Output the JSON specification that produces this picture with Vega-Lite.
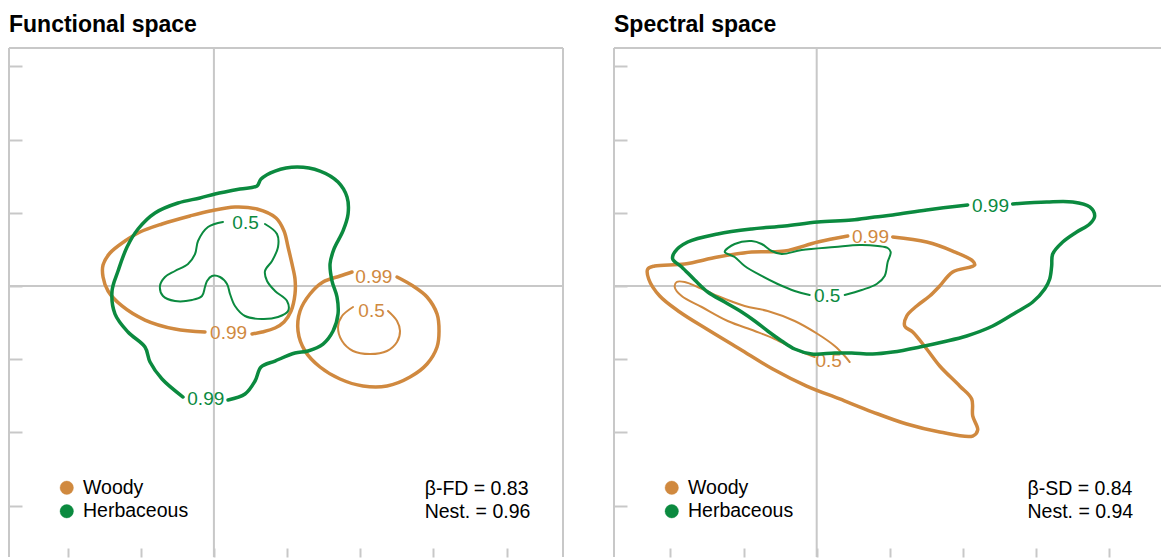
{
  "$schema": "https://vega.github.io/schema/vega-lite/v6.json",
  "description": "Kernel density contours (0.5 and 0.99) of woody and herbaceous plants in functional and spectral space.",
  "background": "white",
  "padding": {"left": 8, "top": 14, "right": 0, "bottom": 0},
  "spacing": 49,
  "resolve": {"legend": {"color": "independent"}},
  "config": {
    "font": "Liberation Sans",
    "view": {"stroke": null},
    "title": {"fontSize": 23, "fontWeight": "bold", "color": "#000000", "anchor": "start", "frame": "group", "offset": 10, "baseline": "alphabetic"},
    "axis": {"domain": false, "labels": false, "grid": false, "ticks": true, "tickColor": "#c8c8c8", "tickWidth": 2},
    "axisX": {"tickSize": 9, "offset": -9},
    "axisY": {"tickSize": 13, "offset": -13},
    "legend": {"orient": "none", "legendX": 48, "legendY": 430, "direction": "vertical", "symbolType": "circle", "symbolSize": 180, "symbolStrokeWidth": 0.8, "labelFontSize": 19.5, "labelFont": "Liberation Sans", "labelColor": "#000000", "labelOffset": 6.5, "rowPadding": 2.5, "padding": 0}
  },
  "datasets": {
    "functional": [
      {"group":"Woody","level":"0.99","ring":"a","i":1,"x":0.521,"y":-0.656},
      {"group":"Woody","level":"0.99","ring":"a","i":2,"x":0.657,"y":-0.629},
      {"group":"Woody","level":"0.99","ring":"a","i":3,"x":0.835,"y":-0.574},
      {"group":"Woody","level":"0.99","ring":"a","i":4,"x":0.958,"y":-0.492},
      {"group":"Woody","level":"0.99","ring":"a","i":5,"x":1.054,"y":-0.342},
      {"group":"Woody","level":"0.99","ring":"a","i":6,"x":1.108,"y":-0.109},
      {"group":"Woody","level":"0.99","ring":"a","i":7,"x":1.108,"y":0.096},
      {"group":"Woody","level":"0.99","ring":"a","i":8,"x":1.067,"y":0.301},
      {"group":"Woody","level":"0.99","ring":"a","i":9,"x":1.013,"y":0.533},
      {"group":"Woody","level":"0.99","ring":"a","i":10,"x":0.958,"y":0.752},
      {"group":"Woody","level":"0.99","ring":"a","i":11,"x":0.849,"y":0.929},
      {"group":"Woody","level":"0.99","ring":"a","i":12,"x":0.589,"y":1.052},
      {"group":"Woody","level":"0.99","ring":"a","i":13,"x":0.288,"y":1.080},
      {"group":"Woody","level":"0.99","ring":"a","i":14,"x":-0.053,"y":1.025},
      {"group":"Woody","level":"0.99","ring":"a","i":15,"x":-0.327,"y":0.957},
      {"group":"Woody","level":"0.99","ring":"a","i":16,"x":-0.709,"y":0.847},
      {"group":"Woody","level":"0.99","ring":"a","i":17,"x":-1.010,"y":0.738},
      {"group":"Woody","level":"0.99","ring":"a","i":18,"x":-1.215,"y":0.615},
      {"group":"Woody","level":"0.99","ring":"a","i":19,"x":-1.420,"y":0.451},
      {"group":"Woody","level":"0.99","ring":"a","i":20,"x":-1.515,"y":0.287},
      {"group":"Woody","level":"0.99","ring":"a","i":21,"x":-1.515,"y":0.123},
      {"group":"Woody","level":"0.99","ring":"a","i":22,"x":-1.447,"y":-0.068},
      {"group":"Woody","level":"0.99","ring":"a","i":23,"x":-1.256,"y":-0.273},
      {"group":"Woody","level":"0.99","ring":"a","i":24,"x":-0.942,"y":-0.465},
      {"group":"Woody","level":"0.99","ring":"a","i":25,"x":-0.532,"y":-0.588},
      {"group":"Woody","level":"0.99","ring":"a","i":26,"x":-0.122,"y":-0.629},
      {"group":"Woody","level":"0.99","ring":"b","i":1,"x":2.502,"y":0.123},
      {"group":"Woody","level":"0.99","ring":"b","i":2,"x":2.721,"y":0.0},
      {"group":"Woody","level":"0.99","ring":"b","i":3,"x":2.912,"y":-0.150},
      {"group":"Woody","level":"0.99","ring":"b","i":4,"x":3.049,"y":-0.383},
      {"group":"Woody","level":"0.99","ring":"b","i":5,"x":3.076,"y":-0.615},
      {"group":"Woody","level":"0.99","ring":"b","i":6,"x":3.049,"y":-0.834},
      {"group":"Woody","level":"0.99","ring":"b","i":7,"x":2.912,"y":-1.066},
      {"group":"Woody","level":"0.99","ring":"b","i":8,"x":2.680,"y":-1.244},
      {"group":"Woody","level":"0.99","ring":"b","i":9,"x":2.365,"y":-1.367},
      {"group":"Woody","level":"0.99","ring":"b","i":10,"x":2.037,"y":-1.367},
      {"group":"Woody","level":"0.99","ring":"b","i":11,"x":1.723,"y":-1.271},
      {"group":"Woody","level":"0.99","ring":"b","i":12,"x":1.450,"y":-1.107},
      {"group":"Woody","level":"0.99","ring":"b","i":13,"x":1.245,"y":-0.888},
      {"group":"Woody","level":"0.99","ring":"b","i":14,"x":1.149,"y":-0.615},
      {"group":"Woody","level":"0.99","ring":"b","i":15,"x":1.177,"y":-0.342},
      {"group":"Woody","level":"0.99","ring":"b","i":16,"x":1.313,"y":-0.109},
      {"group":"Woody","level":"0.99","ring":"b","i":17,"x":1.491,"y":0.055},
      {"group":"Woody","level":"0.99","ring":"b","i":18,"x":1.723,"y":0.137},
      {"group":"Woody","level":"0.99","ring":"b","i":19,"x":1.887,"y":0.191},
      {"group":"Woody","level":"0.5","ring":"c","i":1,"x":2.379,"y":-0.342},
      {"group":"Woody","level":"0.5","ring":"c","i":2,"x":2.502,"y":-0.478},
      {"group":"Woody","level":"0.5","ring":"c","i":3,"x":2.543,"y":-0.615},
      {"group":"Woody","level":"0.5","ring":"c","i":4,"x":2.502,"y":-0.765},
      {"group":"Woody","level":"0.5","ring":"c","i":5,"x":2.365,"y":-0.888},
      {"group":"Woody","level":"0.5","ring":"c","i":6,"x":2.133,"y":-0.929},
      {"group":"Woody","level":"0.5","ring":"c","i":7,"x":1.901,"y":-0.888},
      {"group":"Woody","level":"0.5","ring":"c","i":8,"x":1.751,"y":-0.752},
      {"group":"Woody","level":"0.5","ring":"c","i":9,"x":1.696,"y":-0.560},
      {"group":"Woody","level":"0.5","ring":"c","i":10,"x":1.751,"y":-0.410},
      {"group":"Woody","level":"0.5","ring":"c","i":11,"x":1.901,"y":-0.287},
      {"group":"Herbaceous","level":"0.99","ring":"d","i":1,"x":0.193,"y":-1.558},
      {"group":"Herbaceous","level":"0.99","ring":"d","i":2,"x":0.425,"y":-1.476},
      {"group":"Herbaceous","level":"0.99","ring":"d","i":3,"x":0.562,"y":-1.298},
      {"group":"Herbaceous","level":"0.99","ring":"d","i":4,"x":0.644,"y":-1.107},
      {"group":"Herbaceous","level":"0.99","ring":"d","i":5,"x":0.835,"y":-1.025},
      {"group":"Herbaceous","level":"0.99","ring":"d","i":6,"x":1.108,"y":-0.916},
      {"group":"Herbaceous","level":"0.99","ring":"d","i":7,"x":1.286,"y":-0.888},
      {"group":"Herbaceous","level":"0.99","ring":"d","i":8,"x":1.491,"y":-0.793},
      {"group":"Herbaceous","level":"0.99","ring":"d","i":9,"x":1.628,"y":-0.615},
      {"group":"Herbaceous","level":"0.99","ring":"d","i":10,"x":1.696,"y":-0.383},
      {"group":"Herbaceous","level":"0.99","ring":"d","i":11,"x":1.682,"y":-0.150},
      {"group":"Herbaceous","level":"0.99","ring":"d","i":12,"x":1.614,"y":0.068},
      {"group":"Herbaceous","level":"0.99","ring":"d","i":13,"x":1.587,"y":0.301},
      {"group":"Herbaceous","level":"0.99","ring":"d","i":14,"x":1.641,"y":0.506},
      {"group":"Herbaceous","level":"0.99","ring":"d","i":15,"x":1.764,"y":0.752},
      {"group":"Herbaceous","level":"0.99","ring":"d","i":16,"x":1.833,"y":0.984},
      {"group":"Herbaceous","level":"0.99","ring":"d","i":17,"x":1.819,"y":1.216},
      {"group":"Herbaceous","level":"0.99","ring":"d","i":18,"x":1.696,"y":1.421},
      {"group":"Herbaceous","level":"0.99","ring":"d","i":19,"x":1.450,"y":1.571},
      {"group":"Herbaceous","level":"0.99","ring":"d","i":20,"x":1.136,"y":1.626},
      {"group":"Herbaceous","level":"0.99","ring":"d","i":21,"x":0.835,"y":1.571},
      {"group":"Herbaceous","level":"0.99","ring":"d","i":22,"x":0.644,"y":1.462},
      {"group":"Herbaceous","level":"0.99","ring":"d","i":23,"x":0.589,"y":1.367},
      {"group":"Herbaceous","level":"0.99","ring":"d","i":24,"x":0.357,"y":1.326},
      {"group":"Herbaceous","level":"0.99","ring":"d","i":25,"x":0.015,"y":1.257},
      {"group":"Herbaceous","level":"0.99","ring":"d","i":26,"x":-0.190,"y":1.203},
      {"group":"Herbaceous","level":"0.99","ring":"d","i":27,"x":-0.491,"y":1.134},
      {"group":"Herbaceous","level":"0.99","ring":"d","i":28,"x":-0.805,"y":0.998},
      {"group":"Herbaceous","level":"0.99","ring":"d","i":29,"x":-1.037,"y":0.779},
      {"group":"Herbaceous","level":"0.99","ring":"d","i":30,"x":-1.187,"y":0.533},
      {"group":"Herbaceous","level":"0.99","ring":"d","i":31,"x":-1.310,"y":0.205},
      {"group":"Herbaceous","level":"0.99","ring":"d","i":32,"x":-1.392,"y":-0.068},
      {"group":"Herbaceous","level":"0.99","ring":"d","i":33,"x":-1.351,"y":-0.383},
      {"group":"Herbaceous","level":"0.99","ring":"d","i":34,"x":-1.174,"y":-0.629},
      {"group":"Herbaceous","level":"0.99","ring":"d","i":35,"x":-0.942,"y":-0.834},
      {"group":"Herbaceous","level":"0.99","ring":"d","i":36,"x":-0.873,"y":-1.039},
      {"group":"Herbaceous","level":"0.99","ring":"d","i":37,"x":-0.709,"y":-1.271},
      {"group":"Herbaceous","level":"0.99","ring":"d","i":38,"x":-0.422,"y":-1.517},
      {"group":"Herbaceous","level":"0.5","ring":"e","i":1,"x":0.698,"y":0.847},
      {"group":"Herbaceous","level":"0.5","ring":"e","i":2,"x":0.862,"y":0.711},
      {"group":"Herbaceous","level":"0.5","ring":"e","i":3,"x":0.876,"y":0.533},
      {"group":"Herbaceous","level":"0.5","ring":"e","i":4,"x":0.794,"y":0.342},
      {"group":"Herbaceous","level":"0.5","ring":"e","i":5,"x":0.698,"y":0.205},
      {"group":"Herbaceous","level":"0.5","ring":"e","i":6,"x":0.726,"y":0.068},
      {"group":"Herbaceous","level":"0.5","ring":"e","i":7,"x":0.835,"y":-0.068},
      {"group":"Herbaceous","level":"0.5","ring":"e","i":8,"x":0.999,"y":-0.205},
      {"group":"Herbaceous","level":"0.5","ring":"e","i":9,"x":1.013,"y":-0.342},
      {"group":"Herbaceous","level":"0.5","ring":"e","i":10,"x":0.876,"y":-0.424},
      {"group":"Herbaceous","level":"0.5","ring":"e","i":11,"x":0.657,"y":-0.451},
      {"group":"Herbaceous","level":"0.5","ring":"e","i":12,"x":0.425,"y":-0.410},
      {"group":"Herbaceous","level":"0.5","ring":"e","i":13,"x":0.288,"y":-0.273},
      {"group":"Herbaceous","level":"0.5","ring":"e","i":14,"x":0.220,"y":-0.109},
      {"group":"Herbaceous","level":"0.5","ring":"e","i":15,"x":0.179,"y":0.027},
      {"group":"Herbaceous","level":"0.5","ring":"e","i":16,"x":0.083,"y":0.123},
      {"group":"Herbaceous","level":"0.5","ring":"e","i":17,"x":-0.026,"y":0.137},
      {"group":"Herbaceous","level":"0.5","ring":"e","i":18,"x":-0.094,"y":0.068},
      {"group":"Herbaceous","level":"0.5","ring":"e","i":19,"x":-0.122,"y":-0.014},
      {"group":"Herbaceous","level":"0.5","ring":"e","i":20,"x":-0.163,"y":-0.137},
      {"group":"Herbaceous","level":"0.5","ring":"e","i":21,"x":-0.299,"y":-0.191},
      {"group":"Herbaceous","level":"0.5","ring":"e","i":22,"x":-0.532,"y":-0.205},
      {"group":"Herbaceous","level":"0.5","ring":"e","i":23,"x":-0.696,"y":-0.137},
      {"group":"Herbaceous","level":"0.5","ring":"e","i":24,"x":-0.737,"y":0.0},
      {"group":"Herbaceous","level":"0.5","ring":"e","i":25,"x":-0.668,"y":0.123},
      {"group":"Herbaceous","level":"0.5","ring":"e","i":26,"x":-0.532,"y":0.205},
      {"group":"Herbaceous","level":"0.5","ring":"e","i":27,"x":-0.354,"y":0.301},
      {"group":"Herbaceous","level":"0.5","ring":"e","i":28,"x":-0.258,"y":0.437},
      {"group":"Herbaceous","level":"0.5","ring":"e","i":29,"x":-0.217,"y":0.615},
      {"group":"Herbaceous","level":"0.5","ring":"e","i":30,"x":-0.081,"y":0.806},
      {"group":"Herbaceous","level":"0.5","ring":"e","i":31,"x":0.124,"y":0.875}
    ],
    "functional_labels": [
      {"group":"Woody","level":"0.99","x":0.200,"y":-0.642},
      {"group":"Woody","level":"0.99","x":2.185,"y":0.120},
      {"group":"Woody","level":"0.5","x":2.154,"y":-0.337},
      {"group":"Herbaceous","level":"0.99","x":-0.111,"y":-1.544},
      {"group":"Herbaceous","level":"0.5","x":0.432,"y":0.861}
    ],
    "functional_stats": [{"lines": ["β-FD = 0.83", "Nest. = 0.96"]}],
    "spectral": [
      {"group":"Woody","level":"0.99","ring":"a","i":1,"x":1.039,"y":0.670},
      {"group":"Woody","level":"0.99","ring":"a","i":2,"x":1.503,"y":0.601},
      {"group":"Woody","level":"0.99","ring":"a","i":3,"x":1.858,"y":0.478},
      {"group":"Woody","level":"0.99","ring":"a","i":4,"x":2.132,"y":0.342},
      {"group":"Woody","level":"0.99","ring":"a","i":5,"x":2.159,"y":0.287},
      {"group":"Woody","level":"0.99","ring":"a","i":6,"x":1.858,"y":0.191},
      {"group":"Woody","level":"0.99","ring":"a","i":7,"x":1.681,"y":0.0},
      {"group":"Woody","level":"0.99","ring":"a","i":8,"x":1.544,"y":-0.137},
      {"group":"Woody","level":"0.99","ring":"a","i":9,"x":1.367,"y":-0.273},
      {"group":"Woody","level":"0.99","ring":"a","i":10,"x":1.230,"y":-0.410},
      {"group":"Woody","level":"0.99","ring":"a","i":11,"x":1.203,"y":-0.547},
      {"group":"Woody","level":"0.99","ring":"a","i":12,"x":1.312,"y":-0.629},
      {"group":"Woody","level":"0.99","ring":"a","i":13,"x":1.503,"y":-0.861},
      {"group":"Woody","level":"0.99","ring":"a","i":14,"x":1.681,"y":-1.093},
      {"group":"Woody","level":"0.99","ring":"a","i":15,"x":1.954,"y":-1.367},
      {"group":"Woody","level":"0.99","ring":"a","i":16,"x":2.118,"y":-1.544},
      {"group":"Woody","level":"0.99","ring":"a","i":17,"x":2.132,"y":-1.776},
      {"group":"Woody","level":"0.99","ring":"a","i":18,"x":2.200,"y":-1.968},
      {"group":"Woody","level":"0.99","ring":"a","i":19,"x":2.132,"y":-2.050},
      {"group":"Woody","level":"0.99","ring":"a","i":20,"x":1.681,"y":-1.995},
      {"group":"Woody","level":"0.99","ring":"a","i":21,"x":1.230,"y":-1.886},
      {"group":"Woody","level":"0.99","ring":"a","i":22,"x":0.765,"y":-1.722},
      {"group":"Woody","level":"0.99","ring":"a","i":23,"x":0.314,"y":-1.544},
      {"group":"Woody","level":"0.99","ring":"a","i":24,"x":-0.137,"y":-1.367},
      {"group":"Woody","level":"0.99","ring":"a","i":25,"x":-0.601,"y":-1.134},
      {"group":"Woody","level":"0.99","ring":"a","i":26,"x":-1.052,"y":-0.861},
      {"group":"Woody","level":"0.99","ring":"a","i":27,"x":-1.503,"y":-0.588},
      {"group":"Woody","level":"0.99","ring":"a","i":28,"x":-1.872,"y":-0.355},
      {"group":"Woody","level":"0.99","ring":"a","i":29,"x":-2.145,"y":-0.137},
      {"group":"Woody","level":"0.99","ring":"a","i":30,"x":-2.296,"y":0.096},
      {"group":"Woody","level":"0.99","ring":"a","i":31,"x":-2.309,"y":0.232},
      {"group":"Woody","level":"0.99","ring":"a","i":32,"x":-2.214,"y":0.273},
      {"group":"Woody","level":"0.99","ring":"a","i":33,"x":-1.804,"y":0.301},
      {"group":"Woody","level":"0.99","ring":"a","i":34,"x":-1.353,"y":0.396},
      {"group":"Woody","level":"0.99","ring":"a","i":35,"x":-0.888,"y":0.465},
      {"group":"Woody","level":"0.99","ring":"a","i":36,"x":-0.437,"y":0.478},
      {"group":"Woody","level":"0.99","ring":"a","i":37,"x":0.014,"y":0.601},
      {"group":"Woody","level":"0.99","ring":"a","i":38,"x":0.424,"y":0.683},
      {"group":"Woody","level":"0.5","ring":"b","i":1,"x":0.451,"y":-1.039},
      {"group":"Woody","level":"0.5","ring":"b","i":2,"x":0.383,"y":-0.957},
      {"group":"Woody","level":"0.5","ring":"b","i":3,"x":0.246,"y":-0.820},
      {"group":"Woody","level":"0.5","ring":"b","i":4,"x":0.014,"y":-0.656},
      {"group":"Woody","level":"0.5","ring":"b","i":5,"x":-0.301,"y":-0.478},
      {"group":"Woody","level":"0.5","ring":"b","i":6,"x":-0.670,"y":-0.342},
      {"group":"Woody","level":"0.5","ring":"b","i":7,"x":-0.984,"y":-0.273},
      {"group":"Woody","level":"0.5","ring":"b","i":8,"x":-1.353,"y":-0.137},
      {"group":"Woody","level":"0.5","ring":"b","i":9,"x":-1.626,"y":-0.014},
      {"group":"Woody","level":"0.5","ring":"b","i":10,"x":-1.804,"y":0.055},
      {"group":"Woody","level":"0.5","ring":"b","i":11,"x":-1.913,"y":0.055},
      {"group":"Woody","level":"0.5","ring":"b","i":12,"x":-1.940,"y":-0.014},
      {"group":"Woody","level":"0.5","ring":"b","i":13,"x":-1.845,"y":-0.137},
      {"group":"Woody","level":"0.5","ring":"b","i":14,"x":-1.571,"y":-0.287},
      {"group":"Woody","level":"0.5","ring":"b","i":15,"x":-1.216,"y":-0.478},
      {"group":"Woody","level":"0.5","ring":"b","i":16,"x":-0.847,"y":-0.615},
      {"group":"Woody","level":"0.5","ring":"b","i":17,"x":-0.574,"y":-0.724},
      {"group":"Woody","level":"0.5","ring":"b","i":18,"x":-0.301,"y":-0.861},
      {"group":"Woody","level":"0.5","ring":"b","i":19,"x":-0.027,"y":-0.970},
      {"group":"Herbaceous","level":"0.99","ring":"c","i":1,"x":2.678,"y":1.121},
      {"group":"Herbaceous","level":"0.99","ring":"c","i":2,"x":3.143,"y":1.148},
      {"group":"Herbaceous","level":"0.99","ring":"c","i":3,"x":3.498,"y":1.148},
      {"group":"Herbaceous","level":"0.99","ring":"c","i":4,"x":3.731,"y":1.080},
      {"group":"Herbaceous","level":"0.99","ring":"c","i":5,"x":3.799,"y":0.957},
      {"group":"Herbaceous","level":"0.99","ring":"c","i":6,"x":3.731,"y":0.847},
      {"group":"Herbaceous","level":"0.99","ring":"c","i":7,"x":3.553,"y":0.738},
      {"group":"Herbaceous","level":"0.99","ring":"c","i":8,"x":3.362,"y":0.601},
      {"group":"Herbaceous","level":"0.99","ring":"c","i":9,"x":3.225,"y":0.437},
      {"group":"Herbaceous","level":"0.99","ring":"c","i":10,"x":3.211,"y":0.273},
      {"group":"Herbaceous","level":"0.99","ring":"c","i":11,"x":3.184,"y":0.096},
      {"group":"Herbaceous","level":"0.99","ring":"c","i":12,"x":3.116,"y":-0.041},
      {"group":"Herbaceous","level":"0.99","ring":"c","i":13,"x":2.952,"y":-0.219},
      {"group":"Herbaceous","level":"0.99","ring":"c","i":14,"x":2.733,"y":-0.355},
      {"group":"Herbaceous","level":"0.99","ring":"c","i":15,"x":2.405,"y":-0.547},
      {"group":"Herbaceous","level":"0.99","ring":"c","i":16,"x":2.050,"y":-0.683},
      {"group":"Herbaceous","level":"0.99","ring":"c","i":17,"x":1.722,"y":-0.765},
      {"group":"Herbaceous","level":"0.99","ring":"c","i":18,"x":1.407,"y":-0.834},
      {"group":"Herbaceous","level":"0.99","ring":"c","i":19,"x":1.039,"y":-0.902},
      {"group":"Herbaceous","level":"0.99","ring":"c","i":20,"x":0.765,"y":-0.929},
      {"group":"Herbaceous","level":"0.99","ring":"c","i":21,"x":0.478,"y":-0.916},
      {"group":"Herbaceous","level":"0.99","ring":"c","i":22,"x":0.246,"y":-0.916},
      {"group":"Herbaceous","level":"0.99","ring":"c","i":23,"x":-0.068,"y":-0.929},
      {"group":"Herbaceous","level":"0.99","ring":"c","i":24,"x":-0.301,"y":-0.861},
      {"group":"Herbaceous","level":"0.99","ring":"c","i":25,"x":-0.478,"y":-0.752},
      {"group":"Herbaceous","level":"0.99","ring":"c","i":26,"x":-0.670,"y":-0.615},
      {"group":"Herbaceous","level":"0.99","ring":"c","i":27,"x":-0.847,"y":-0.478},
      {"group":"Herbaceous","level":"0.99","ring":"c","i":28,"x":-1.025,"y":-0.355},
      {"group":"Herbaceous","level":"0.99","ring":"c","i":29,"x":-1.257,"y":-0.219},
      {"group":"Herbaceous","level":"0.99","ring":"c","i":30,"x":-1.489,"y":-0.082},
      {"group":"Herbaceous","level":"0.99","ring":"c","i":31,"x":-1.667,"y":0.082},
      {"group":"Herbaceous","level":"0.99","ring":"c","i":32,"x":-1.845,"y":0.260},
      {"group":"Herbaceous","level":"0.99","ring":"c","i":33,"x":-1.968,"y":0.369},
      {"group":"Herbaceous","level":"0.99","ring":"c","i":34,"x":-1.940,"y":0.465},
      {"group":"Herbaceous","level":"0.99","ring":"c","i":35,"x":-1.763,"y":0.601},
      {"group":"Herbaceous","level":"0.99","ring":"c","i":36,"x":-1.353,"y":0.711},
      {"group":"Herbaceous","level":"0.99","ring":"c","i":37,"x":-0.888,"y":0.779},
      {"group":"Herbaceous","level":"0.99","ring":"c","i":38,"x":-0.437,"y":0.820},
      {"group":"Herbaceous","level":"0.99","ring":"c","i":39,"x":0.014,"y":0.875},
      {"group":"Herbaceous","level":"0.99","ring":"c","i":40,"x":0.478,"y":0.902},
      {"group":"Herbaceous","level":"0.99","ring":"c","i":41,"x":0.793,"y":0.943},
      {"group":"Herbaceous","level":"0.99","ring":"c","i":42,"x":1.039,"y":0.970},
      {"group":"Herbaceous","level":"0.99","ring":"c","i":43,"x":1.503,"y":1.039},
      {"group":"Herbaceous","level":"0.99","ring":"c","i":44,"x":2.063,"y":1.107},
      {"group":"Herbaceous","level":"0.5","ring":"d","i":1,"x":0.383,"y":-0.123},
      {"group":"Herbaceous","level":"0.5","ring":"d","i":2,"x":0.615,"y":-0.055},
      {"group":"Herbaceous","level":"0.5","ring":"d","i":3,"x":0.820,"y":0.027},
      {"group":"Herbaceous","level":"0.5","ring":"d","i":4,"x":0.929,"y":0.137},
      {"group":"Herbaceous","level":"0.5","ring":"d","i":5,"x":0.970,"y":0.328},
      {"group":"Herbaceous","level":"0.5","ring":"d","i":6,"x":1.011,"y":0.465},
      {"group":"Herbaceous","level":"0.5","ring":"d","i":7,"x":0.970,"y":0.519},
      {"group":"Herbaceous","level":"0.5","ring":"d","i":8,"x":0.834,"y":0.547},
      {"group":"Herbaceous","level":"0.5","ring":"d","i":9,"x":0.588,"y":0.560},
      {"group":"Herbaceous","level":"0.5","ring":"d","i":10,"x":0.246,"y":0.533},
      {"group":"Herbaceous","level":"0.5","ring":"d","i":11,"x":-0.205,"y":0.492},
      {"group":"Herbaceous","level":"0.5","ring":"d","i":12,"x":-0.478,"y":0.437},
      {"group":"Herbaceous","level":"0.5","ring":"d","i":13,"x":-0.615,"y":0.478},
      {"group":"Herbaceous","level":"0.5","ring":"d","i":14,"x":-0.752,"y":0.574},
      {"group":"Herbaceous","level":"0.5","ring":"d","i":15,"x":-0.888,"y":0.615},
      {"group":"Herbaceous","level":"0.5","ring":"d","i":16,"x":-1.121,"y":0.574},
      {"group":"Herbaceous","level":"0.5","ring":"d","i":17,"x":-1.257,"y":0.465},
      {"group":"Herbaceous","level":"0.5","ring":"d","i":18,"x":-1.121,"y":0.396},
      {"group":"Herbaceous","level":"0.5","ring":"d","i":19,"x":-0.984,"y":0.273},
      {"group":"Herbaceous","level":"0.5","ring":"d","i":20,"x":-0.752,"y":0.137},
      {"group":"Herbaceous","level":"0.5","ring":"d","i":21,"x":-0.533,"y":0.027},
      {"group":"Herbaceous","level":"0.5","ring":"d","i":22,"x":-0.301,"y":-0.068},
      {"group":"Herbaceous","level":"0.5","ring":"d","i":23,"x":-0.096,"y":-0.123}
    ],
    "spectral_labels": [
      {"group":"Woody","level":"0.99","x":0.735,"y":0.665},
      {"group":"Woody","level":"0.5","x":0.164,"y":-1.020},
      {"group":"Herbaceous","level":"0.99","x":2.375,"y":1.097},
      {"group":"Herbaceous","level":"0.5","x":0.143,"y":-0.133}
    ],
    "spectral_stats": [{"lines": ["β-SD = 0.84", "Nest. = 0.94"]}]
  },
  "hconcat": [
    {
      "title": "Functional space",
      "width": 554,
      "height": 509,
      "layer": [
        {"data": {"values": [{}]}, "mark": {"type": "rule", "color": "#c8c8c8", "strokeWidth": 2},
         "encoding": {"x": {"datum": 0, "type": "quantitative", "scale": {"domain": [-2.8, 4.77], "nice": false, "zero": false}, "axis": {"title": null, "values": [-2, -1, 0, 1, 2, 3, 4]}}}},
        {"data": {"values": [{}]}, "mark": {"type": "rule", "color": "#c8c8c8", "strokeWidth": 2},
         "encoding": {"y": {"datum": 0, "type": "quantitative", "scale": {"domain": [-3.703, 3.252], "nice": false, "zero": false}, "axis": {"title": null, "values": [-3, -2, -1, 0, 1, 2, 3]}}}},
        {"data": {"values": [{}]}, "mark": {"type": "rule", "color": "#c8c8c8", "strokeWidth": 2},
         "encoding": {"x": {"datum": -2.8, "type": "quantitative", "scale": {"domain": [-2.8, 4.77], "nice": false, "zero": false}, "axis": {"title": null, "values": [-2, -1, 0, 1, 2, 3, 4]}}}},
        {"data": {"values": [{}]}, "mark": {"type": "rule", "color": "#c8c8c8", "strokeWidth": 2},
         "encoding": {"x": {"datum": 4.77, "type": "quantitative", "scale": {"domain": [-2.8, 4.77], "nice": false, "zero": false}, "axis": {"title": null, "values": [-2, -1, 0, 1, 2, 3, 4]}}}},
        {"data": {"values": [{}]}, "mark": {"type": "rule", "color": "#c8c8c8", "strokeWidth": 2},
         "encoding": {"y": {"datum": 3.252, "type": "quantitative", "scale": {"domain": [-3.703, 3.252], "nice": false, "zero": false}, "axis": {"title": null, "values": [-3, -2, -1, 0, 1, 2, 3]}}}},
        {"data": {"name": "functional"}, "transform": [{"filter": "datum.group === 'Woody'"}],
         "mark": {"type": "line", "interpolate": "catmull-rom", "strokeCap": "round", "strokeJoin": "round"},
         "encoding": {
           "x": {"field": "x", "type": "quantitative", "scale": {"domain": [-2.8, 4.77], "nice": false, "zero": false}, "axis": {"title": null, "values": [-2, -1, 0, 1, 2, 3, 4]}},
           "y": {"field": "y", "type": "quantitative", "scale": {"domain": [-3.703, 3.252], "nice": false, "zero": false}, "axis": {"title": null, "values": [-3, -2, -1, 0, 1, 2, 3]}},
           "detail": {"field": "ring"},
           "order": {"field": "i", "type": "quantitative"},
           "color": {"field": "group", "type": "nominal", "scale": {"domain": ["Woody", "Herbaceous"], "range": ["#D0893F", "#0B8A3F"]},
                     "legend": {"title": null, "encode": {"symbols": {"update": {"fill": {"signal": "datum.value === 'Woody' ? '#D0893F' : '#0B8A3F'"}, "stroke": {"value": "#4a4a4a"}, "strokeOpacity": {"value": 0.5}, "opacity": {"value": 1}}}}}},
           "strokeWidth": {"field": "level", "type": "ordinal", "scale": {"domain": ["0.5", "0.99"], "range": [2, 3.5]}, "legend": null}
         }},
        {"data": {"name": "functional_labels"}, "transform": [{"filter": "datum.group === 'Woody'"}],
         "mark": {"type": "text", "fontSize": 19, "align": "center", "baseline": "middle"},
         "encoding": {
           "x": {"field": "x", "type": "quantitative", "scale": {"domain": [-2.8, 4.77], "nice": false, "zero": false}, "axis": {"title": null, "values": [-2, -1, 0, 1, 2, 3, 4]}},
           "y": {"field": "y", "type": "quantitative", "scale": {"domain": [-3.703, 3.252], "nice": false, "zero": false}, "axis": {"title": null, "values": [-3, -2, -1, 0, 1, 2, 3]}},
           "text": {"field": "level"},
           "color": {"field": "group", "type": "nominal", "legend": null}
         }},
        {"data": {"name": "functional"}, "transform": [{"filter": "datum.group === 'Herbaceous'"}],
         "mark": {"type": "line", "interpolate": "catmull-rom", "strokeCap": "round", "strokeJoin": "round"},
         "encoding": {
           "x": {"field": "x", "type": "quantitative", "scale": {"domain": [-2.8, 4.77], "nice": false, "zero": false}, "axis": {"title": null, "values": [-2, -1, 0, 1, 2, 3, 4]}},
           "y": {"field": "y", "type": "quantitative", "scale": {"domain": [-3.703, 3.252], "nice": false, "zero": false}, "axis": {"title": null, "values": [-3, -2, -1, 0, 1, 2, 3]}},
           "detail": {"field": "ring"},
           "order": {"field": "i", "type": "quantitative"},
           "color": {"field": "group", "type": "nominal", "legend": null},
           "strokeWidth": {"field": "level", "type": "ordinal", "legend": null}
         }},
        {"data": {"name": "functional_labels"}, "transform": [{"filter": "datum.group === 'Herbaceous'"}],
         "mark": {"type": "text", "fontSize": 19, "align": "center", "baseline": "middle"},
         "encoding": {
           "x": {"field": "x", "type": "quantitative", "scale": {"domain": [-2.8, 4.77], "nice": false, "zero": false}, "axis": {"title": null, "values": [-2, -1, 0, 1, 2, 3, 4]}},
           "y": {"field": "y", "type": "quantitative", "scale": {"domain": [-3.703, 3.252], "nice": false, "zero": false}, "axis": {"title": null, "values": [-3, -2, -1, 0, 1, 2, 3]}},
           "text": {"field": "level"},
           "color": {"field": "group", "type": "nominal", "legend": null}
         }},
        {"data": {"name": "functional_stats"},
         "mark": {"type": "text", "align": "left", "baseline": "alphabetic", "fontSize": 19.5, "lineHeight": 23, "color": "#000000"},
         "encoding": {
           "x": {"datum": 2.88, "type": "quantitative", "scale": {"domain": [-2.8, 4.77], "nice": false, "zero": false}, "axis": {"title": null, "values": [-2, -1, 0, 1, 2, 3, 4]}},
           "y": {"datum": -2.85, "type": "quantitative", "scale": {"domain": [-3.703, 3.252], "nice": false, "zero": false}, "axis": {"title": null, "values": [-3, -2, -1, 0, 1, 2, 3]}},
           "text": {"field": "lines"}
         }}
      ]
    },
    {
      "title": "Spectral space",
      "width": 547,
      "height": 509,
      "layer": [
        {"data": {"values": [{}]}, "mark": {"type": "rule", "color": "#c8c8c8", "strokeWidth": 2},
         "encoding": {"x": {"datum": 0, "type": "quantitative", "scale": {"domain": [-2.77, 4.705], "nice": false, "zero": false}, "axis": {"title": null, "values": [-2, -1, 0, 1, 2, 3, 4]}}}},
        {"data": {"values": [{}]}, "mark": {"type": "rule", "color": "#c8c8c8", "strokeWidth": 2},
         "encoding": {"y": {"datum": 0, "type": "quantitative", "scale": {"domain": [-3.703, 3.252], "nice": false, "zero": false}, "axis": {"title": null, "values": [-3, -2, -1, 0, 1, 2, 3]}}}},
        {"data": {"values": [{}]}, "mark": {"type": "rule", "color": "#c8c8c8", "strokeWidth": 2},
         "encoding": {"x": {"datum": -2.77, "type": "quantitative", "scale": {"domain": [-2.77, 4.705], "nice": false, "zero": false}, "axis": {"title": null, "values": [-2, -1, 0, 1, 2, 3, 4]}}}},
        {"data": {"values": [{}]}, "mark": {"type": "rule", "color": "#c8c8c8", "strokeWidth": 2},
         "encoding": {"y": {"datum": 3.252, "type": "quantitative", "scale": {"domain": [-3.703, 3.252], "nice": false, "zero": false}, "axis": {"title": null, "values": [-3, -2, -1, 0, 1, 2, 3]}}}},
        {"data": {"name": "spectral"}, "transform": [{"filter": "datum.group === 'Woody'"}],
         "mark": {"type": "line", "interpolate": "catmull-rom", "strokeCap": "round", "strokeJoin": "round"},
         "encoding": {
           "x": {"field": "x", "type": "quantitative", "scale": {"domain": [-2.77, 4.705], "nice": false, "zero": false}, "axis": {"title": null, "values": [-2, -1, 0, 1, 2, 3, 4]}},
           "y": {"field": "y", "type": "quantitative", "scale": {"domain": [-3.703, 3.252], "nice": false, "zero": false}, "axis": {"title": null, "values": [-3, -2, -1, 0, 1, 2, 3]}},
           "detail": {"field": "ring"},
           "order": {"field": "i", "type": "quantitative"},
           "color": {"field": "group", "type": "nominal", "scale": {"domain": ["Woody", "Herbaceous"], "range": ["#D0893F", "#0B8A3F"]},
                     "legend": {"title": null, "encode": {"symbols": {"update": {"fill": {"signal": "datum.value === 'Woody' ? '#D0893F' : '#0B8A3F'"}, "stroke": {"value": "#4a4a4a"}, "strokeOpacity": {"value": 0.5}, "opacity": {"value": 1}}}}}},
           "strokeWidth": {"field": "level", "type": "ordinal", "scale": {"domain": ["0.5", "0.99"], "range": [2, 3.3]}, "legend": null}
         }},
        {"data": {"name": "spectral_labels"}, "transform": [{"filter": "datum.group === 'Woody'"}],
         "mark": {"type": "text", "fontSize": 19, "align": "center", "baseline": "middle"},
         "encoding": {
           "x": {"field": "x", "type": "quantitative", "scale": {"domain": [-2.77, 4.705], "nice": false, "zero": false}, "axis": {"title": null, "values": [-2, -1, 0, 1, 2, 3, 4]}},
           "y": {"field": "y", "type": "quantitative", "scale": {"domain": [-3.703, 3.252], "nice": false, "zero": false}, "axis": {"title": null, "values": [-3, -2, -1, 0, 1, 2, 3]}},
           "text": {"field": "level"},
           "color": {"field": "group", "type": "nominal", "legend": null}
         }},
        {"data": {"name": "spectral"}, "transform": [{"filter": "datum.group === 'Herbaceous'"}],
         "mark": {"type": "line", "interpolate": "catmull-rom", "strokeCap": "round", "strokeJoin": "round"},
         "encoding": {
           "x": {"field": "x", "type": "quantitative", "scale": {"domain": [-2.77, 4.705], "nice": false, "zero": false}, "axis": {"title": null, "values": [-2, -1, 0, 1, 2, 3, 4]}},
           "y": {"field": "y", "type": "quantitative", "scale": {"domain": [-3.703, 3.252], "nice": false, "zero": false}, "axis": {"title": null, "values": [-3, -2, -1, 0, 1, 2, 3]}},
           "detail": {"field": "ring"},
           "order": {"field": "i", "type": "quantitative"},
           "color": {"field": "group", "type": "nominal", "legend": null},
           "strokeWidth": {"field": "level", "type": "ordinal", "legend": null}
         }},
        {"data": {"name": "spectral_labels"}, "transform": [{"filter": "datum.group === 'Herbaceous'"}],
         "mark": {"type": "text", "fontSize": 19, "align": "center", "baseline": "middle"},
         "encoding": {
           "x": {"field": "x", "type": "quantitative", "scale": {"domain": [-2.77, 4.705], "nice": false, "zero": false}, "axis": {"title": null, "values": [-2, -1, 0, 1, 2, 3, 4]}},
           "y": {"field": "y", "type": "quantitative", "scale": {"domain": [-3.703, 3.252], "nice": false, "zero": false}, "axis": {"title": null, "values": [-3, -2, -1, 0, 1, 2, 3]}},
           "text": {"field": "level"},
           "color": {"field": "group", "type": "nominal", "legend": null}
         }},
        {"data": {"name": "spectral_stats"},
         "mark": {"type": "text", "align": "left", "baseline": "alphabetic", "fontSize": 19.5, "lineHeight": 23, "color": "#000000"},
         "encoding": {
           "x": {"datum": 2.88, "type": "quantitative", "scale": {"domain": [-2.77, 4.705], "nice": false, "zero": false}, "axis": {"title": null, "values": [-2, -1, 0, 1, 2, 3, 4]}},
           "y": {"datum": -2.85, "type": "quantitative", "scale": {"domain": [-3.703, 3.252], "nice": false, "zero": false}, "axis": {"title": null, "values": [-3, -2, -1, 0, 1, 2, 3]}},
           "text": {"field": "lines"}
         }}
      ]
    }
  ]
}
